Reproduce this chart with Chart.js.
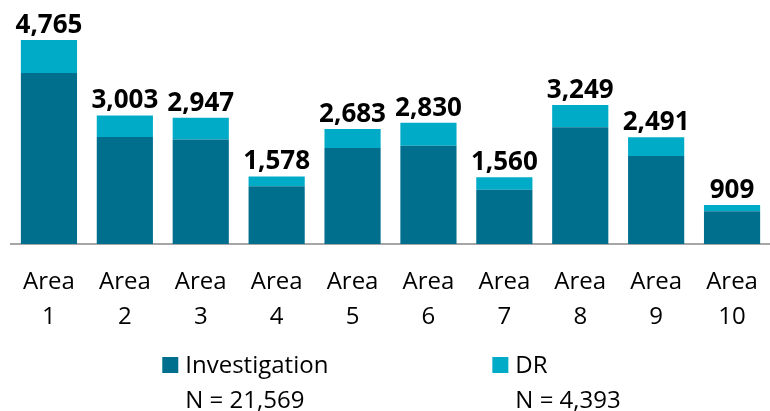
<!DOCTYPE html>
<html>
<head>
<meta charset="utf-8">
<script src="https://cdn.jsdelivr.net/npm/chart.js@4"></script>
<style>
  html, body { margin: 0; padding: 0; background: #fff; }
  #wrap { width: 770px; height: 411px; }
</style>
</head>
<body>
<div id="wrap"><canvas id="areaChart"></canvas></div>
<script>
    // Data per area
    const areas = ["1", "2", "3", "4", "5", "6", "7", "8", "9", "10"];
    const totals = [4765, 3003, 2947, 1578, 2683, 2830, 1560, 3249, 2491, 909];
    const drValues = [770, 505, 505, 232, 443, 535, 295, 520, 436, 148];
    const invValues = [3995, 2498, 2442, 1346, 2240, 2295, 1265, 2729, 2055, 761];
    const seriesNames = ["Investigation", "DR"];
    const seriesN = ["N = 21,569", "N = 4,393"];

    const FONT = "'Open Sans', 'Noto Sans', sans-serif";

    // total label on top of each stacked bar
    const totalLabels = {
        id: "totalLabels",
        afterDatasetsDraw(chart) {
            const ctx = chart.ctx;
            const meta = chart.getDatasetMeta(chart.data.datasets.length - 1);
            ctx.save();
            ctx.font = "bold 26px " + FONT;
            ctx.fillStyle = "#000";
            ctx.textAlign = "center";
            ctx.textBaseline = "alphabetic";
            meta.data.forEach((bar, i) => {
                ctx.fillText(totals[i].toLocaleString("en-US"), bar.x, bar.y - 7);
            });
            ctx.restore();
        }
    };

    // two-line legend under the axis
    const bottomLegend = {
        id: "bottomLegend",
        afterDraw(chart) {
            const ctx = chart.ctx;
            const box = 16, gapText = 7, gapItems = 164;
            ctx.save();
            ctx.font = "24px " + FONT;
            const widths = seriesNames.map((name, i) =>
                box + gapText + Math.max(ctx.measureText(name).width, ctx.measureText(seriesN[i]).width));
            const total = widths[0] + gapItems + widths[1];
            const area = chart.chartArea;
            let x = (area.left + area.right) / 2 - total / 2 + 1;
            chart.data.datasets.forEach((ds, i) => {
                ctx.fillStyle = ds.backgroundColor;
                ctx.fillRect(x, 357, box, box);
                ctx.fillStyle = "#000";
                ctx.textAlign = "left";
                ctx.textBaseline = "alphabetic";
                ctx.fillText(seriesNames[i], x + box + gapText, 373);
                ctx.fillText(seriesN[i], x + box + gapText, 408);
                x += widths[i] + gapItems;
            });
            ctx.restore();
        }
    };

    const ctx = document.getElementById("areaChart").getContext("2d");
    new Chart(ctx, {
        type: "bar",
        data: {
            labels: areas.map(a => ["Area", a]),
            datasets: [
                {
                    label: seriesNames[0],
                    data: invValues,
                    backgroundColor: "#006F8E",
                    borderWidth: 0
                },
                {
                    label: seriesNames[1],
                    data: drValues,
                    backgroundColor: "#00ABC7",
                    borderWidth: 0
                }
            ]
        },
        options: {
            responsive: true,
            maintainAspectRatio: false,
            animation: false,
            layout: {
                padding: { top: 0, left: 11, right: 0, bottom: 55 }
            },
            plugins: {
                legend: { display: false },
                tooltip: { enabled: false }
            },
            datasets: {
                bar: { categoryPercentage: 1, barPercentage: 0.74 }
            },
            scales: {
                x: {
                    stacked: true,
                    grid: { display: false, drawTicks: false },
                    border: { display: true, color: "#A6A6A6", width: 2 },
                    ticks: {
                        color: "#000",
                        padding: 21,
                        maxRotation: 0,
                        autoSkip: false,
                        font: { family: FONT, size: 24, lineHeight: 1.46 }
                    },
                    afterFit(scale) {
                        // labels fit inside their categories, no side padding needed
                        scale.paddingLeft = 0;
                        scale.paddingRight = 0;
                    }
                },
                y: {
                    stacked: true,
                    display: false,
                    min: 0,
                    max: 5700
                }
            }
        },
        plugins: [totalLabels, bottomLegend]
    });
</script>
</body>
</html>
